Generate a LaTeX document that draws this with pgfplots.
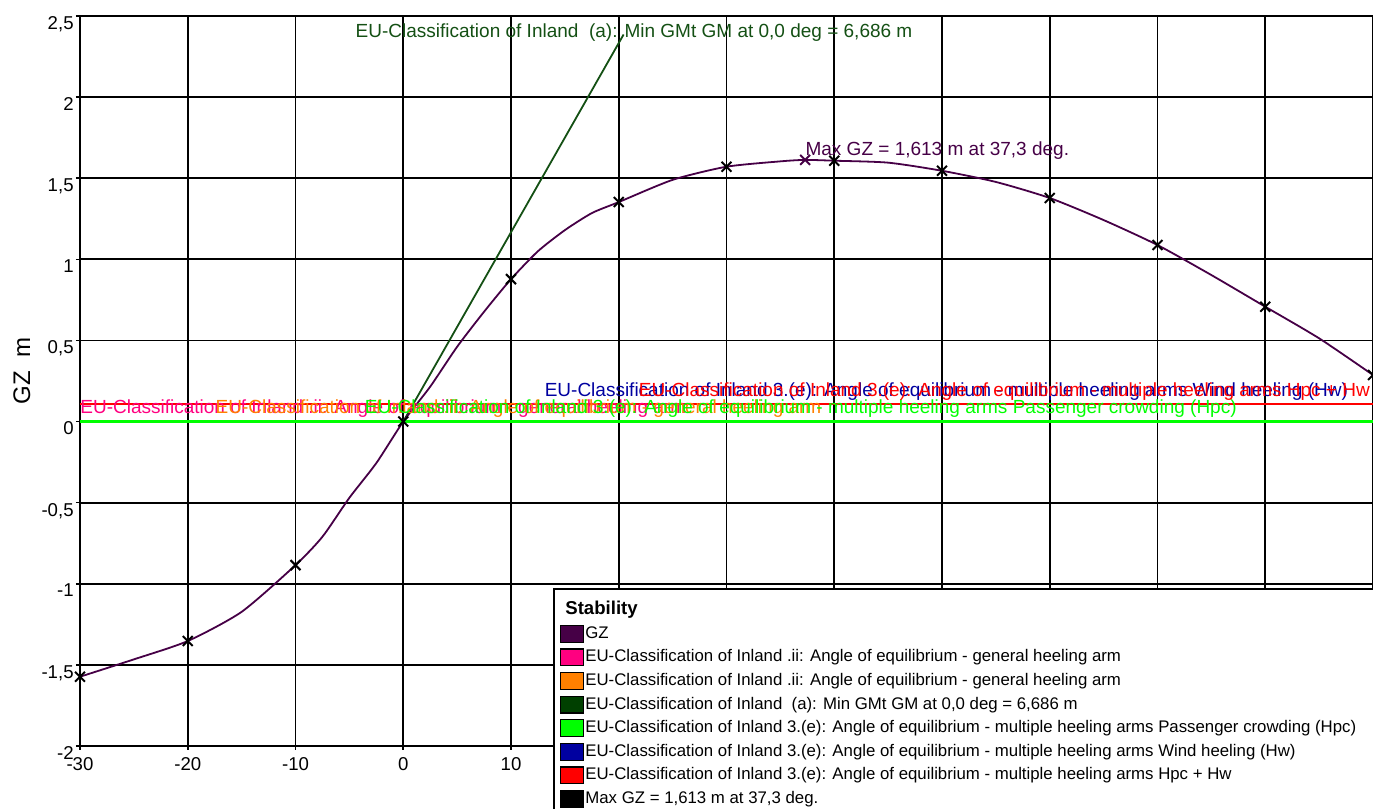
\documentclass[border=0pt]{standalone}
\usepackage{fontspec}
\setmainfont{Liberation Sans}
\usepackage{pgfplots}
\pgfplotsset{compat=1.18}
\definecolor{gzcol}{RGB}{70,0,70}
\definecolor{pinkcol}{RGB}{255,0,128}
\definecolor{orangecol}{RGB}{255,128,0}
\definecolor{dkgreen}{RGB}{0,64,0}
\definecolor{dkgreenline}{RGB}{20,80,20}
\definecolor{brgreen}{RGB}{0,255,0}
\definecolor{bluecol}{RGB}{0,0,160}
\definecolor{redcol}{RGB}{255,0,0}
\begin{document}
\begin{tikzpicture}
\begin{axis}[
  scale only axis, width=646.5pt, height=365pt,
  xmin=-30, xmax=90, ymin=-2, ymax=2.5,
  xtick={-30,-20,-10,0,10,20,30,40,50,60,70,80,90},
  xticklabels={-30,-20,-10,0,10,20,30,40,50,60,70,80,{}},
  ytick={-2,-1.5,-1,-0.5,0,0.5,1,1.5,2,2.5},
  yticklabels={{-2},{-1,5},{-1},{-0,5},{0},{0,5},{1},{1,5},{2},{2,5}},
  xtick pos=left, ytick pos=left,
  tick align=outside, major tick length=2pt,
  tick style={black, line width=0.8pt},
  grid=major, major grid style={black, line width=0.9pt},
  axis line style={black, line width=1pt},
  ticklabel style={font=\fontsize{9.3}{11}\selectfont},
  yticklabel style={anchor=north east, inner sep=0pt, xshift=-1pt},
  xticklabel style={anchor=north, inner sep=0pt, yshift=-3.5pt},
  ylabel={GZ\ \ m},
  every axis y label/.style={at={(axis description cs:-0.0449,0.514)}, rotate=90, anchor=center, font=\fontsize{12}{14}\selectfont},
  legend image code/.code={\draw[#1, draw=black, line width=0.6pt] (0pt,-4.2pt) rectangle (11.5pt,4.2pt);},
  legend cell align=left,
  legend style={at={(rel axis cs:0.3658,0.2164)}, anchor=north west, draw=black, line width=1pt, fill=white,
    font=\fontsize{8.4}{10}\selectfont, inner xsep=3pt, inner ysep=6pt, row sep=2.6pt,
    nodes={inner sep=0.6pt, text height=6.2pt, text depth=1.8pt}},
]
% heeling arm lines
\addplot[pinkcol, line width=1.2pt, forget plot] coordinates {(-30,0.11) (90,0.11)};
\addplot[orangecol, line width=1.2pt, forget plot] coordinates {(-30,0.11) (90,0.11)};
\addplot[bluecol, line width=1.2pt, forget plot] coordinates {(-30,0.11) (90,0.11)};
\addplot[redcol, line width=1.2pt, forget plot] coordinates {(-30,0.11) (90,0.11)};
\addplot[brgreen, line width=1.2pt, forget plot] coordinates {(-30,0) (90,0)};
% Min GM line
\addplot[dkgreenline, line width=0.9pt, forget plot] coordinates {(0,0) (20.45,2.386)};
% GZ curve
\addplot[gzcol, line width=0.9pt, smooth, tension=0.4, forget plot] coordinates {
(-30,-1.573) (-25,-1.466) (-20,-1.353) (-15,-1.173) (-10,-0.885) (-7.5,-0.71) (-5,-0.47) (-2.5,-0.256)
(0,0) (2.5,0.215) (5,0.461) (7.5,0.677) (10,0.878) (12.5,1.05) (15,1.18) (17.5,1.285) (20,1.353)
(25,1.49) (30,1.571) (35,1.604) (37.3,1.613) (40,1.608) (45,1.596) (50,1.546) (55,1.477) (60,1.378)
(65,1.242) (70,1.088) (75,0.903) (80,0.708) (85,0.513) (90,0.287)};
\addplot[only marks, mark=x, black, mark size=3.5pt, line width=1pt, forget plot] coordinates {
(-30,-1.573) (-20,-1.353) (-10,-0.885) (0,0) (10,0.878) (20,1.353) (30,1.571) (40,1.608) (50,1.546)
(60,1.378) (70,1.088) (80,0.708) (90,0.287)};
\addplot[only marks, mark=x, gzcol, mark size=3.5pt, line width=1pt, forget plot] coordinates {(37.3,1.613)};
% labels
\node[anchor=base west, inner sep=0pt, text=pinkcol, font=\fontsize{9.5}{11}\selectfont] at (axis cs:-30,0.051) {EU-Classification of Inland .ii: Angle of equilibrium - general heeling arm};
\node[anchor=base west, inner sep=0pt, text=orangecol, font=\fontsize{9.5}{11}\selectfont] at (axis cs:-17.45,0.051) {EU-Classification of Inland .ii: Angle of equilibrium - general heeling arm};
\node[anchor=base west, inner sep=0pt, text=brgreen, font=\fontsize{9.5}{11}\selectfont] at (axis cs:-3.6,0.051) {EU-Classification of Inland 3.(e): Angle of equilibrium - multiple heeling arms Passenger crowding (Hpc)};
\node[anchor=base west, inner sep=0pt, text=bluecol, font=\fontsize{9.5}{11}\selectfont] at (axis cs:13.1,0.153) {EU-Classification of Inland 3.(e): Angle of equilibrium - multiple heeling arms Wind heeling (Hw)};
\node[anchor=base east, inner sep=0pt, text=redcol, font=\fontsize{9.5}{11}\selectfont] at (axis cs:89.75,0.153) {EU-Classification of Inland 3.(e): Angle of equilibrium - multiple heeling arms Hpc + Hw};
\node[anchor=base west, inner sep=0pt, text=dkgreenline, font=\fontsize{9.5}{11}\selectfont] at (axis cs:-4.45,2.369) {EU-Classification of Inland\ \ (a): Min GMt GM at 0,0 deg = 6,686 m};
\node[anchor=base west, inner sep=0pt, text=gzcol, font=\fontsize{9.5}{11}\selectfont] at (axis cs:37.3,1.643) {Max GZ = 1,613 m at 37,3 deg.};
% legend
\addlegendimage{empty legend}
\addlegendentry{\hspace*{-10pt}\fontsize{9.3}{11}\selectfont\bfseries Stability}
\addlegendimage{fill=gzcol}
\addlegendentry{GZ}
\addlegendimage{fill=pinkcol}
\addlegendentry{EU-Classification of Inland .ii: Angle of equilibrium - general heeling arm}
\addlegendimage{fill=orangecol}
\addlegendentry{EU-Classification of Inland .ii: Angle of equilibrium - general heeling arm}
\addlegendimage{fill=dkgreen}
\addlegendentry{EU-Classification of Inland\ \ (a): Min GMt GM at 0,0 deg = 6,686 m}
\addlegendimage{fill=brgreen}
\addlegendentry{EU-Classification of Inland 3.(e): Angle of equilibrium - multiple heeling arms Passenger crowding (Hpc)\hspace*{14pt}}
\addlegendimage{fill=bluecol}
\addlegendentry{EU-Classification of Inland 3.(e): Angle of equilibrium - multiple heeling arms Wind heeling (Hw)}
\addlegendimage{fill=redcol}
\addlegendentry{EU-Classification of Inland 3.(e): Angle of equilibrium - multiple heeling arms Hpc + Hw}
\addlegendimage{fill=black}
\addlegendentry{Max GZ = 1,613 m at 37,3 deg.}
\end{axis}
\pgfresetboundingbox
\path[use as bounding box] (-40pt,-31.5pt) rectangle (646.5pt,373pt);
\end{tikzpicture}
\end{document}
